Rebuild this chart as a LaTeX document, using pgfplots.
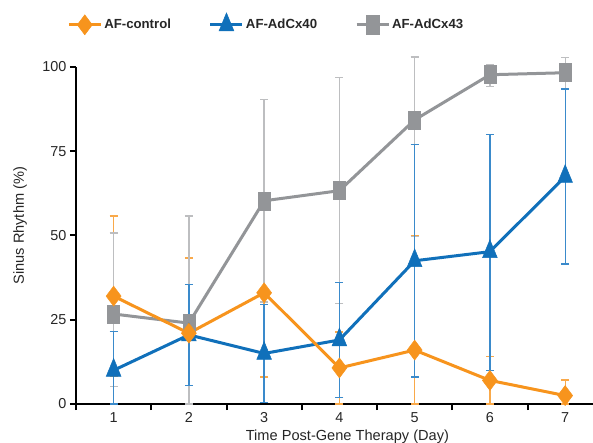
\documentclass[border=0pt]{standalone}
\usepackage{pgfplots}
\pgfplotsset{compat=1.18}
\usepackage{pgfplotstable}
\usepackage{fontspec}
\setmainfont{Liberation Sans}
\definecolor{corange}{HTML}{F7941D}
\definecolor{cblue}{HTML}{1070BA}
\definecolor{cgray}{HTML}{939598}
\definecolor{eorange}{HTML}{F9A94A}
\definecolor{eblue}{HTML}{3A8ACB}
\definecolor{egray}{HTML}{BDBEC0}

\pgfplotstableread{
x y ep em
1 32.0 23.8 23.8
2 21.0 22.3 21.0
3 33.0 26.0 25.0
4 10.7 10.7 10.7
5 16.0 34.0 16.0
6 7.0 7.0 7.0
7 2.5 4.6 2.5
}\control
\pgfplotstableread{
x y ep em
1 10.0 11.5 10.0
2 20.5 15.0 15.0
3 15.0 14.5 14.5
4 19.0 17.0 17.0
5 42.5 34.5 34.5
6 45.2 34.8 35.2
7 67.5 26.0 26.0
}\cxforty
\pgfplotstableread{
x y ep em
1 26.7 24.0 21.5
2 24.0 31.8 24.0
3 60.3 30.0 30.0
4 63.3 33.5 33.5
5 84.3 18.7 34.5
6 97.7 3.0 3.5
7 98.3 4.6 4.6
}\cxfortythree

\begin{document}
\begin{tikzpicture}
\path[use as bounding box] (-76bp,-39bp) rectangle (517bp,404bp);
\begin{axis}[
  at={(0,0)}, anchor=south west,
  scale only axis,
  width=517bp, height=337bp,
  xmin=0.5, xmax=7.37,
  ymin=0, ymax=100,
  clip=false,
  axis lines*=left,
  axis line style={line width=2.2bp, black},
  tick align=outside,
  major tick length=6bp,
  tick style={line width=2bp, black},
  ytick={0,25,50,75,100},
  xtick={0.5,1.5,...,6.5},
  xticklabels={},
  extra x ticks={1,2,3,4,5,6,7},
  extra x tick labels={1,2,3,4,5,6,7},
  extra x tick style={major tick length=0pt},
  /pgf/number format/assume math mode=true,
  tick label style={font=\fontsize{14.4bp}{16bp}\selectfont, text=black!85},
  xticklabel style={yshift=-5bp},
  xlabel={Time Post-Gene Therapy (Day)},
  ylabel={Sinus Rhythm (\%)},
  label style={font=\fontsize{14.6bp}{16bp}\selectfont, text=black!85},
  xlabel style={at={(axis description cs:0.525,-0.098)}, anchor=center},
  ylabel style={at={(axis description cs:-0.108,0.529)}, anchor=center, rotate=0},
  legend columns=3,
  legend style={draw=none, fill=none, at={(axis description cs:0.368,1.128)}, anchor=center,
    font=\fontsize{13.2bp}{15bp}\selectfont\bfseries, text=black!85,
    /tikz/every even column/.append style={column sep=36bp},
    /tikz/every odd column/.append style={column sep=0bp}},
  legend image code/.code={\draw[mark repeat=2,mark phase=2] plot coordinates {(0bp,0bp) (16bp,0bp) (32bp,0bp)};},
]
% legend entries
\addlegendimage{corange, line width=3bp, mark=diamond*, mark size=10bp, mark options={solid, fill=corange, draw=corange, line width=0.5bp}}
\addlegendentry{AF-control}
\addlegendimage{cblue, line width=3bp, mark=triangle*, mark size=8.5bp, mark options={solid, yscale=1.4, fill=cblue, draw=cblue, line width=0.5bp}}
\addlegendentry{AF-AdCx40}
\addlegendimage{cgray, line width=3bp, mark=square*, mark size=6.5bp, mark options={solid, yscale=1.5, fill=cgray, draw=cgray, line width=0.5bp}}
\addlegendentry{AF-AdCx43}

% error bars (behind)
\addplot[forget plot, draw=none, mark=none,
  error bars/.cd, y dir=both, y explicit,
  error bar style={eorange, line width=1.3bp},
  error mark options={rotate=90, mark size=4bp, eorange, line width=1.3bp}]
  table[x=x, y=y, y error plus=ep, y error minus=em] {\control};
\addplot[forget plot, draw=none, mark=none,
  error bars/.cd, y dir=both, y explicit,
  error bar style={egray, line width=1.3bp},
  error mark options={rotate=90, mark size=4bp, egray, line width=1.3bp}]
  table[x=x, y=y, y error plus=ep, y error minus=em] {\cxfortythree};
\addplot[forget plot, draw=none, mark=none,
  error bars/.cd, y dir=both, y explicit,
  error bar style={eblue, line width=1.3bp},
  error mark options={rotate=90, mark size=4bp, eblue, line width=1.3bp}]
  table[x=x, y=y, y error plus=ep, y error minus=em] {\cxforty};

% lines and markers
\addplot[forget plot, cgray, line width=3bp, mark=square*, mark size=6bp, mark options={solid, yscale=1.5, fill=cgray, draw=cgray, line width=0.5bp}]
  table[x=x, y=y] {\cxfortythree};
\addplot[forget plot, cblue, line width=3bp, mark=triangle*, mark size=8.5bp, mark options={solid, yscale=1.4, fill=cblue, draw=cblue, line width=0.5bp}]
  table[x=x, y=y] {\cxforty};
\addplot[forget plot, corange, line width=3bp, mark=diamond*, mark size=10bp, mark options={solid, fill=corange, draw=corange, line width=0.5bp}]
  table[x=x, y=y] {\control};
\end{axis}
\end{tikzpicture}
\end{document}
